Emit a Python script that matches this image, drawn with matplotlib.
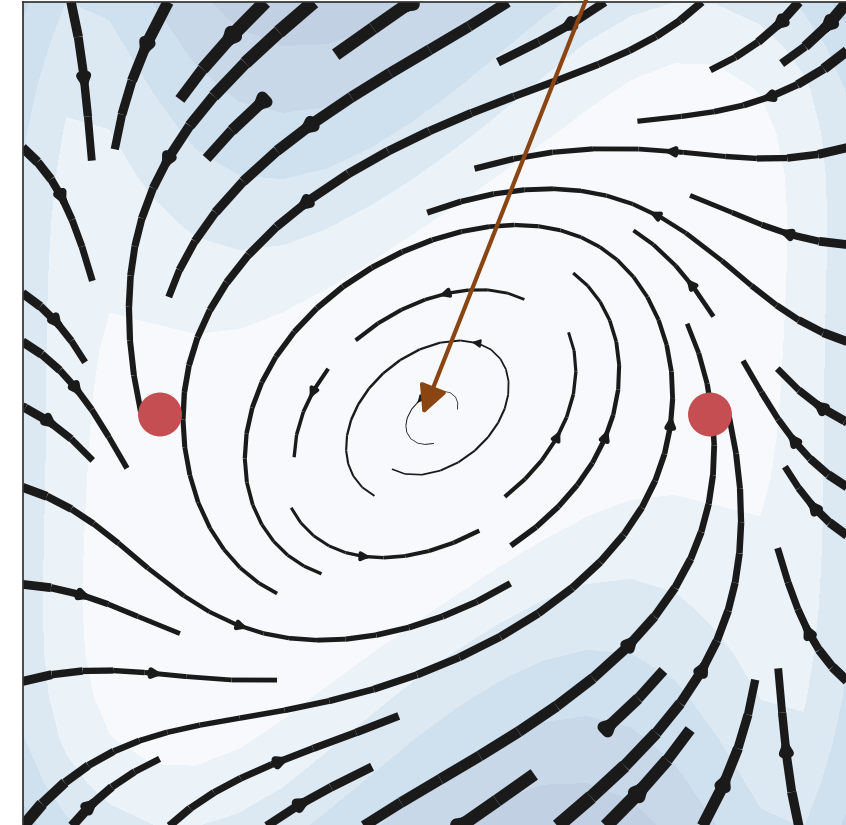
import numpy as np
import matplotlib
matplotlib.use("Agg")
import matplotlib.pyplot as plt

# Velocity samples of the flow: position (x, y) and components (u, v)
sample_x = np.array([-2.873, -2.509, -2.327, -1.927, -2.873, -2.436, -2.655, -1.658, -0.836, -0.255,
                     -2.873, -2.073, -2.800, -2.800, -2.073, -0.982, 0.327, 1.200, 1.636, 1.724,
                     1.345, 0.596, -0.320, -0.982, -1.295, -0.982, -0.400, -1.418, -0.691, 0.305,
                     0.909, 0.109, 1.055, 1.753, 2.036, 1.891, 1.491, 1.927, 2.073, 2.342,
                     2.291, 2.836, 2.836, 2.800, 2.327, 2.800, 1.855, 2.836, 2.400, 2.800,
                     1.927, 1.164, 0.327, -0.255, 2.727, 2.218, 1.855, 1.964, 1.491, 0.618,
                     1.418, 0.473, -0.618, -1.382, -1.818, -0.545, -1.600, -1.964, -2.145, -1.964,
                     -1.709, -1.804, -1.709, 0.691, 1.185, 0.822, 0.327, -0.618, -0.422, 0.473,
                     0.182, 0.342, 0.182, -0.305, 0.0])
sample_y = np.array([2.724, 1.669, 0.105, -0.767, 0.505, -0.113, -0.913, -1.436, -1.665, -1.604,
                     -1.640, -1.662, -2.062, -2.804, -2.331, -2.098, -1.713, -0.913, -0.185, 0.178,
                     1.124, 1.400, 1.029, 0.542, -0.258, -1.058, -1.182, -2.804, -2.476, -2.280,
                     -2.695, -2.760, -2.113, -1.240, -0.622, 0.615, -2.513, -1.785, -2.513, -1.349,
                     -0.476, -1.647, -2.524, 0.178, 0.687, 1.109, 1.487, 1.502, 1.524, 1.960,
                     1.851, 1.900, 1.851, 1.596, 2.760, 2.324, 2.193, 2.833, 2.484, 2.273,
                     2.796, 2.760, 2.251, 1.596, 0.833, 2.687, 2.360, 1.705, 1.124, 2.724,
                     0.396, -0.185, -0.767, -0.622, 0.251, 0.433, 0.789, 0.251, -0.855, -0.440,
                     -0.164, 0.127, 0.309, -0.185, 0.0])
sample_u = np.array([2.81, 0.87, 0.40, 2.33, 3.70, 2.33, 6.26, 3.66, 4.00, 4.93,
                     6.00, 2.98, 6.78, 7.68, 5.66, 4.98, 6.26, 3.60, 0.66, 0.00,
                     -3.00, -6.00, -4.00, -2.75, -0.20, 2.28, 3.50, 4.10, 5.82, 8.66,
                     9.98, 10.40, 7.07, 3.13, 0.75, -1.44, 5.40, 2.40, 1.21, 0.00,
                     -0.40, -3.31, -3.60, -5.05, -2.88, -6.73, -2.74, -7.99, -4.00, -5.80,
                     -3.00, -3.00, -4.98, -6.55, -6.00, -4.57, -2.87, -1.80, -3.71, -6.79,
                     -4.33, -9.27, -10.06, -5.85, -1.75, -10.80, -4.40, -2.40, -0.75, -2.40,
                     -1.20, 0.18, 0.60, 2.83, 0.15, 0.00, -3.00, -1.80, 3.00, 2.10,
                     1.15, 0.00, -1.47, 0.30, 0.0])
sample_v = np.array([-7.49, -4.93, -3.98, -3.26, -4.73, -3.26, -3.13, -1.62, 0.00, 0.82,
                     -0.21, -0.32, 1.74, 6.40, 1.98, 0.50, 3.13, 4.80, 3.94, 4.00,
                     4.00, 0.00, -3.00, -4.18, -4.00, -2.66, 0.18, 2.87, 1.46, 5.00,
                     8.32, 6.00, 7.07, 6.26, 4.94, 3.19, 7.20, 5.50, 4.85, 4.00,
                     3.98, 7.28, 7.14, 4.86, 2.78, 1.90, 1.23, 0.42, 0.20, -1.55,
                     0.00, 0.20, -0.50, -2.46, -5.28, -2.03, -0.89, -2.40, -1.48, -1.70,
                     -2.50, -3.76, -6.55, -6.84, -4.68, -7.20, -6.68, -5.50, -4.94, -5.50,
                     -3.82, -3.50, -2.94, 2.83, 3.00, 3.00, 0.00, -2.40, 0.00, 2.10,
                     0.96, 1.50, -0.30, -1.47, 0.0])

# Marked points and the pointer arrow
marker_x = [-2.0, 2.0]
marker_y = [0.0, 0.0]
arrow_tip = (-0.09, 0.0)
arrow_tail = (1.27, 3.45)

# Filled speed bands
speed_levels = [0, 5.2, 6.6, 8.0, 9.4, 10.8, 12.2, 40]
band_colors = ['#f7f9fc', '#ebf2f8', '#dce9f3', '#cfe0ee', '#c8d8e8', '#c1d1e3', '#bacbdf']


def odd_basis(x, y):
    return np.stack([x, y, x**3, x**2 * y, x * y**2, y**3], axis=-1)


A = odd_basis(sample_x, sample_y)
ridge = 1e-3 * np.eye(A.shape[1])
coef_u = np.linalg.solve(A.T @ A + ridge, A.T @ sample_u)
coef_v = np.linalg.solve(A.T @ A + ridge, A.T @ sample_v)

grid = np.linspace(-3, 3, 20)
X, Y = np.meshgrid(grid, grid)
B = odd_basis(X, Y)
U = B @ coef_u
V = B @ coef_v
speed = np.hypot(U, V)

fig = plt.figure(figsize=(8.46, 8.25), dpi=100)
ax = fig.add_axes([22.5 / 846, -2 / 825, 825 / 846, 825 / 825])
ax.contourf(X, Y, speed, levels=speed_levels, colors=band_colors, zorder=0)
ax.streamplot(X, Y, U, V, color='#1a1a1a', linewidth=speed * 0.85,
              density=0.6, arrowsize=1.2, zorder=2)
ax.scatter(marker_x, marker_y, s=1000, color='#c44e52', edgecolors='none', zorder=5)
ax.annotate('', xy=arrow_tip, xytext=arrow_tail, annotation_clip=False, zorder=6,
            arrowprops=dict(arrowstyle='-|>', color='#8b4513', lw=3.0,
                            mutation_scale=42, shrinkA=0, shrinkB=0))
ax.set_xlim(-3, 3)
ax.set_ylim(-3, 3)
ax.set_xticks([])
ax.set_yticks([])
for side in ax.spines.values():
    side.set_color('#333333')
    side.set_linewidth(1.25)

fig.savefig('out.png', dpi=100)
